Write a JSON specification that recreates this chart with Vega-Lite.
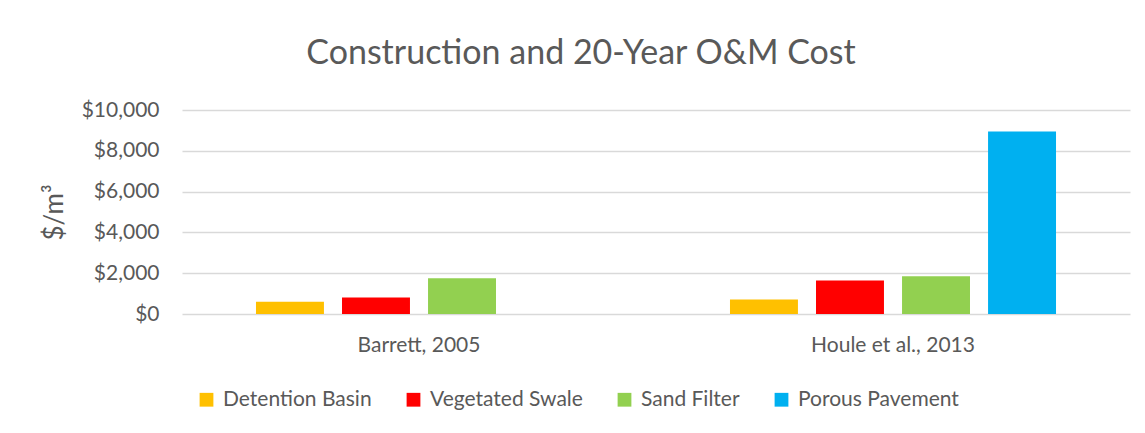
{
  "$schema": "https://vega.github.io/schema/vega-lite/v6.json",
  "width": 948,
  "height": 204,
  "autosize": {"type": "none"},
  "padding": {"left": 182, "top": 110, "right": 15, "bottom": 119},
  "background": "white",
  "title": {
    "text": "Construction and 20-Year O&M Cost",
    "font": "Lato",
    "fontSize": 34,
    "fontWeight": "normal",
    "color": "#595959",
    "anchor": "middle",
    "dx": -75,
    "offset": 28
  },
  "data": {
    "values": [
      {"study": "Barrett, 2005", "bmp": "Detention Basin", "cost": 600},
      {"study": "Barrett, 2005", "bmp": "Vegetated Swale", "cost": 810},
      {"study": "Barrett, 2005", "bmp": "Sand Filter", "cost": 1755},
      {"study": "Houle et al., 2013", "bmp": "Detention Basin", "cost": 710},
      {"study": "Houle et al., 2013", "bmp": "Vegetated Swale", "cost": 1640},
      {"study": "Houle et al., 2013", "bmp": "Sand Filter", "cost": 1855},
      {"study": "Houle et al., 2013", "bmp": "Porous Pavement", "cost": 8950}
    ]
  },
  "mark": {"type": "bar"},
  "encoding": {
    "x": {
      "field": "study",
      "type": "nominal",
      "sort": ["Barrett, 2005", "Houle et al., 2013"],
      "scale": {"paddingInner": 0, "paddingOuter": 0},
      "axis": {
        "title": null,
        "labelAngle": 0,
        "labelFont": "Lato",
        "labelFontSize": 21,
        "labelColor": "#595959",
        "labelPadding": 20,
        "ticks": false,
        "domain": false,
        "grid": false
      }
    },
    "xOffset": {
      "field": "bmp",
      "type": "nominal",
      "sort": ["Detention Basin", "Vegetated Swale", "Sand Filter", "Porous Pavement"],
      "scale": {"paddingInner": 0.21, "paddingOuter": 0.86}
    },
    "y": {
      "field": "cost",
      "type": "quantitative",
      "scale": {"domain": [0, 10000]},
      "axis": {
        "title": "$/m³",
        "titleFont": "Lato",
        "titleFontSize": 26,
        "titleFontWeight": "normal",
        "titleColor": "#595959",
        "titlePadding": 14,
        "values": [0, 2000, 4000, 6000, 8000, 10000],
        "format": "$,.0f",
        "labelFont": "Lato",
        "labelFontSize": 21,
        "labelColor": "#595959",
        "labelPadding": 23,
        "ticks": false,
        "domain": false,
        "gridColor": "#D9D9D9",
        "gridWidth": 1.5
      }
    },
    "color": {
      "field": "bmp",
      "type": "nominal",
      "scale": {
        "domain": ["Detention Basin", "Vegetated Swale", "Sand Filter", "Porous Pavement"],
        "range": ["#FFC000", "#FF0000", "#92D050", "#00B0F0"]
      },
      "legend": {
        "title": null,
        "orient": "none",
        "legendX": 14,
        "legendY": 279,
        "direction": "horizontal",
        "symbolType": "square",
        "symbolSize": 190,
        "symbolStrokeWidth": 0,
        "symbolOpacity": 1,
        "labelFont": "Lato",
        "labelFontSize": 21,
        "labelColor": "#595959",
        "labelOffset": 6,
        "labelLimit": 400,
        "columnPadding": 31
      }
    }
  },
  "config": {
    "view": {"stroke": null}
  }
}
